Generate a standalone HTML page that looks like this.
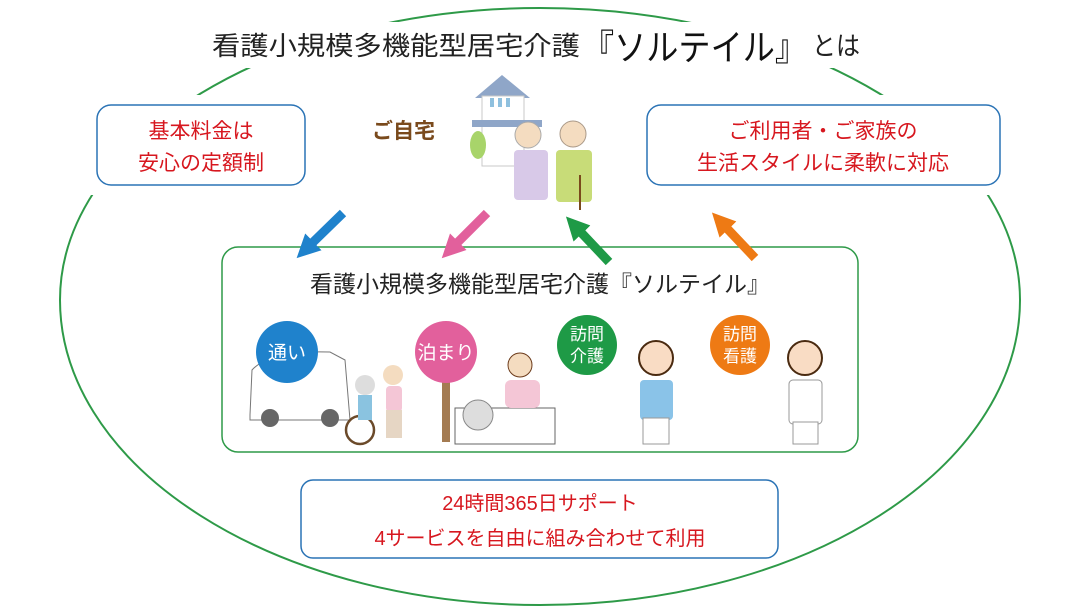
<!DOCTYPE html>
<html><head><meta charset="utf-8"><style>
html,body{margin:0;padding:0;background:#fff;width:1080px;height:608px;overflow:hidden;}
svg{display:block;overflow:hidden;}
svg text{font-family:"Liberation Sans","Noto Sans CJK JP",sans-serif;}
</style></head><body>
<svg width="1080" height="608" viewBox="0 0 1080 608" xmlns="http://www.w3.org/2000/svg">
<defs>
<marker id="ah" viewBox="0 0 10 10" refX="5" refY="5" markerWidth="2.6" markerHeight="2.6" orient="auto"><path d="M0,0 L10,5 L0,10 z" fill="context-stroke"/></marker>
</defs>
<path d="M60,300 A480,292 0 0 1 1020,300 A480,305 0 0 1 60,300 Z" fill="none" stroke="#2e9a48" stroke-width="2"/>
<rect x="200" y="22" width="680" height="46" fill="#fff"/>
<rect x="88" y="95" width="225" height="100" fill="#fff"/>
<rect x="640" y="95" width="370" height="100" fill="#fff"/>
<text x="212" y="55" font-size="26" fill="#222" textLength="368" lengthAdjust="spacingAndGlyphs">看護小規模多機能型居宅介護</text>
<text x="582" y="60" font-size="36" fill="#111" textLength="225" lengthAdjust="spacingAndGlyphs">『ソルテイル』</text>
<text x="812" y="55" font-size="26" fill="#222" textLength="48" lengthAdjust="spacingAndGlyphs">とは</text>

<rect x="97" y="105" width="208" height="80" rx="14" fill="#fff" stroke="#2a73b5" stroke-width="1.5"/>
<text x="201" y="138" font-size="21" fill="#d7171f" text-anchor="middle">基本料金は</text>
<text x="201" y="170" font-size="21" fill="#d7171f" text-anchor="middle">安心の定額制</text>
<rect x="647" y="105" width="353" height="80" rx="14" fill="#fff" stroke="#2a73b5" stroke-width="1.5"/>
<text x="823" y="138" font-size="21" fill="#d7171f" text-anchor="middle">ご利用者・ご家族の</text>
<text x="823" y="170" font-size="21" fill="#d7171f" text-anchor="middle">生活スタイルに柔軟に対応</text>

<text x="372" y="138" font-size="21" font-weight="bold" fill="#7a4a1c">ご自宅</text>
<path d="M475,98 L502,75 L530,98 Z" fill="#8fa6c8"/>
<rect x="482" y="96" width="42" height="70" fill="#fff" stroke="#c9c9c9"/>
<rect x="490" y="98" width="4" height="9" fill="#8fc0de"/><rect x="498" y="98" width="4" height="9" fill="#8fc0de"/><rect x="506" y="98" width="4" height="9" fill="#8fc0de"/>
<rect x="472" y="120" width="70" height="7" fill="#8fa6c8"/>
<ellipse cx="478" cy="145" rx="8" ry="14" fill="#a8d46a"/>
<rect x="514" y="150" width="34" height="50" rx="4" fill="#d8c9e8"/>
<circle cx="528" cy="135" r="13" fill="#f4dcc0" stroke="#aaa"/>
<rect x="556" y="150" width="36" height="52" rx="4" fill="#c8dc78"/>
<circle cx="573" cy="134" r="13" fill="#f4dcc0" stroke="#a98"/>
<line x1="580" y1="175" x2="580" y2="210" stroke="#7a4a1c" stroke-width="2"/>

<rect x="222" y="247" width="636" height="205" rx="16" fill="#fff" stroke="#2e9a48" stroke-width="1.5"/>

<line x1="343" y1="213" x2="305" y2="250" stroke="#1f82cc" stroke-width="9" marker-end="url(#ah)"/>
<line x1="487" y1="213" x2="450" y2="250" stroke="#e2609c" stroke-width="9" marker-end="url(#ah)"/>
<line x1="609" y1="262" x2="574" y2="225" stroke="#1e9a46" stroke-width="9" marker-end="url(#ah)"/>
<line x1="755" y1="258" x2="720" y2="221" stroke="#ee7a14" stroke-width="9" marker-end="url(#ah)"/>

<text x="540" y="292" font-size="23" fill="#222" text-anchor="middle">看護小規模多機能型居宅介護『ソルテイル』</text>

<path d="M250,415 L252,370 Q270,350 330,352 L345,360 L350,420 L250,420 Z" fill="#fff" stroke="#777"/>
<circle cx="270" cy="418" r="9" fill="#666"/><circle cx="330" cy="418" r="9" fill="#666"/>
<circle cx="287" cy="352" r="31" fill="#1f82cc"/>
<text x="287" y="359" font-size="19" fill="#fff" text-anchor="middle">通い</text>
<circle cx="360" cy="430" r="14" fill="none" stroke="#6b4a2a" stroke-width="2.5"/>
<circle cx="365" cy="385" r="10" fill="#ddd"/>
<rect x="358" y="395" width="14" height="25" fill="#8ac3e0"/>
<circle cx="393" cy="375" r="10" fill="#f4dcc0"/>
<rect x="386" y="386" width="16" height="26" rx="4" fill="#f4c6d6"/>
<rect x="386" y="410" width="16" height="28" fill="#e6d6c4"/>

<rect x="442" y="360" width="8" height="82" fill="#a47b52"/>
<circle cx="446" cy="352" r="31" fill="#e2609c"/>
<text x="446" y="359" font-size="19" fill="#fff" text-anchor="middle">泊まり</text>
<rect x="455" y="408" width="100" height="36" fill="#fff" stroke="#666"/>
<circle cx="478" cy="415" r="15" fill="#ddd" stroke="#888"/>
<circle cx="520" cy="365" r="12" fill="#f4dcc0" stroke="#6b3a1a"/>
<rect x="505" y="380" width="35" height="28" rx="6" fill="#f4c6d6"/>

<circle cx="587" cy="345" r="30" fill="#1e9a46"/>
<text x="587" y="340" font-size="17" fill="#fff" text-anchor="middle">訪問</text>
<text x="587" y="362" font-size="17" fill="#fff" text-anchor="middle">介護</text>
<circle cx="656" cy="358" r="17" fill="#f9dcc4" stroke="#4a2a10" stroke-width="2"/>
<rect x="640" y="380" width="33" height="40" rx="4" fill="#8ac3e8"/>
<rect x="643" y="418" width="26" height="26" fill="#fff" stroke="#999"/>

<circle cx="740" cy="345" r="30" fill="#ee7a14"/>
<text x="740" y="340" font-size="17" fill="#fff" text-anchor="middle">訪問</text>
<text x="740" y="362" font-size="17" fill="#fff" text-anchor="middle">看護</text>
<circle cx="805" cy="358" r="17" fill="#f9dcc4" stroke="#4a2a10" stroke-width="2"/>
<rect x="789" y="380" width="33" height="44" rx="4" fill="#fff" stroke="#999"/>
<rect x="793" y="422" width="25" height="22" fill="#fff" stroke="#999"/>

<rect x="301" y="480" width="477" height="78" rx="12" fill="#fff" stroke="#2a73b5" stroke-width="1.5"/>
<text x="540" y="510" font-size="20" fill="#d7171f" text-anchor="middle">24時間365日サポート</text>
<text x="540" y="545" font-size="20" fill="#d7171f" text-anchor="middle">4サービスを自由に組み合わせて利用</text>
</svg>
</body></html>
